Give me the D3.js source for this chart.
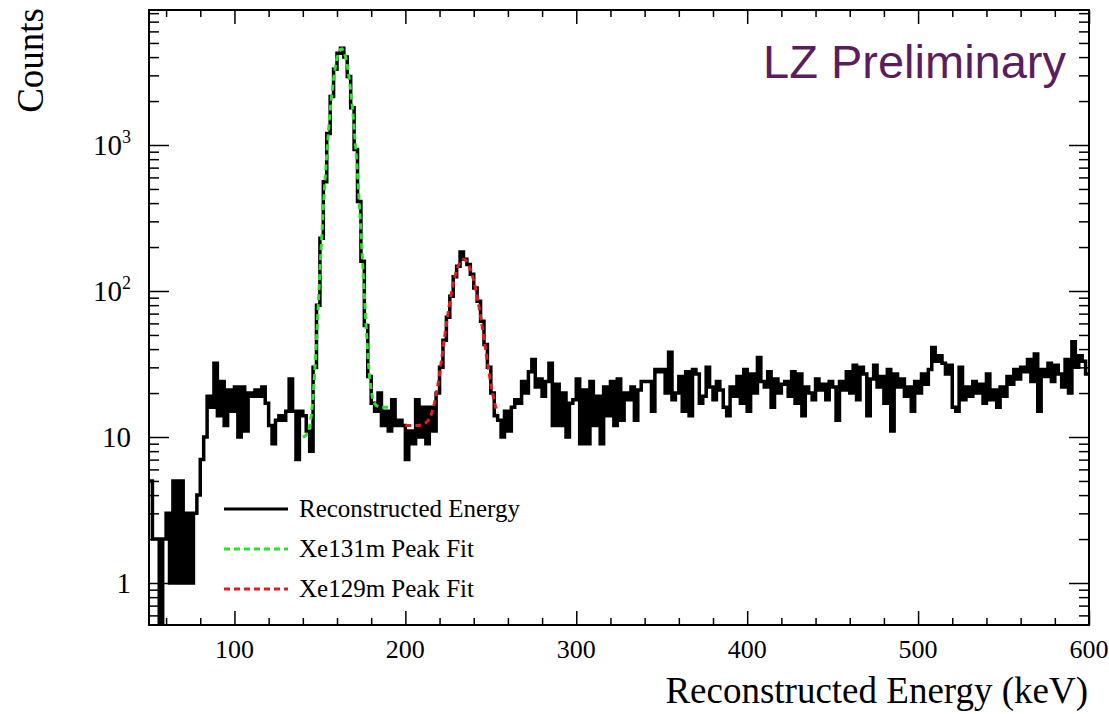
<!DOCTYPE html>
<html>
<head>
<meta charset="utf-8">
<script src="https://cdn.jsdelivr.net/npm/d3@7"></script>
<style>
  body { margin: 0; background: #fff; }
  svg { display: block; }
</style>
</head>
<body>
<script>
// reconstructed energy spectrum, 2 keV bins starting at 50 keV
const binLow = 50
const binWidth = 2
const counts = [
  5, 2, 2, 0, 2, 3, 1, 5, 1, 5,                          // 50-70
  1, 3, 1, 3, 4, 7, 10, 19, 16, 32,                      // 70-90
  14, 24, 12, 21, 15, 22, 10, 22, 11, 20,                // 90-110
  19, 21, 19, 22, 17, 12, 9, 13, 14, 13,                 // 110-130
  15, 25, 15, 7, 15, 14, 11, 8, 30, 80,                  // 130-150
  230, 560, 1200, 2150, 3300, 4250, 4600, 4000, 2950, 1800, // 150-170
  930, 410, 160, 58, 26, 17, 15, 20, 12, 15,             // 170-190
  11, 18, 12, 13, 12, 7, 11, 9, 18, 10,                  // 190-210
  16, 9, 16, 11, 20, 30, 46, 66, 92, 125,                // 210-230
  148, 185, 165, 152, 130, 105, 85, 62, 43, 30,          // 230-250
  20, 14, 13, 10, 15, 11, 16, 18, 17, 24,                // 250-270
  20, 28, 34, 22, 25, 19, 24, 32, 12, 23,                // 270-290
  12, 20, 10, 17, 18, 25, 9, 21, 9, 24,                  // 290-310
  12, 19, 9, 22, 14, 24, 12, 25, 13, 20,                 // 310-330
  18, 22, 13, 21, 24, 24, 24, 15, 29, 28,                // 330-350
  29, 20, 38, 18, 20, 26, 15, 28, 14, 29,                // 350-370
  27, 17, 19, 30, 22, 18, 24, 21, 16, 14,                // 370-390
  22, 19, 26, 17, 29, 15, 27, 20, 35, 24,                // 390-410
  22, 28, 16, 25, 20, 23, 24, 19, 28, 17,                // 410-430
  27, 14, 22, 20, 18, 25, 21, 23, 18, 24,                // 430-450
  22, 13, 24, 21, 28, 20, 31, 18, 30, 27,                // 450-470
  14, 25, 31, 22, 26, 17, 29, 11, 27, 22,                // 470-490
  25, 19, 22, 15, 24, 20, 27, 23, 29, 41,                // 490-510
  33, 36, 32, 27, 31, 16, 15, 30, 18, 22,                // 510-530
  19, 24, 20, 23, 17, 27, 18, 21, 16, 22,                // 530-550
  19, 26, 23, 29, 25, 30, 28, 34, 24, 37,                // 550-570
  15, 29, 26, 32, 24, 31, 27, 22, 34, 20,                // 570-590
  45, 30, 36, 33, 27                                     // 590-600
]

// peak fits, sampled every 1 keV
const xe131Start = 140
const xe131Fit = [
  10, 10.1, 10.3, 10.8, 11.8, 14.1, 18.9, 28.4, 46, 79,
  135, 226, 368, 574, 863, 1241, 1708, 2248, 2829, 3406,
  3916, 4306, 4526, 4547, 4366, 4009, 3517, 2950, 2366, 1816,
  1333, 937, 632, 409, 256, 156, 94, 58, 37, 26,
  21, 18, 17, 16.4, 16.2, 16, 16, 16, 16, 16,
  16
]
const xe129Start = 200
const xe129Fit = [
  12, 12, 12, 12, 12, 12, 12, 12, 12, 12.1,
  12.2, 12.3, 12.5, 12.8, 13.3, 14.1, 15.3, 17, 19.4, 22.7,
  27, 32.7, 39.8, 48.6, 58.9, 70.7, 83.8, 97.7, 111.9, 125.8,
  138.6, 149.5, 158, 163.2, 165, 163.5, 158.9, 151.6, 142, 130.5,
  118, 104.8, 91.6, 78.9, 67, 56.5, 47.2, 39.3, 32.7, 27.4,
  23.2, 20, 17.6, 15.8, 14.6
]

const xMajor = [100, 200, 300, 400, 500, 600]
const xMinor = [60, 80, 120, 140, 160, 180, 220, 240, 260, 280, 320, 340, 360, 380,
  420, 440, 460, 480, 520, 540, 560, 580]
const yMajor = [1, 10, 100, 1000]
const yLabels = [["1", ""], ["10", ""], ["10", "2"], ["10", "3"]]
const yMinor = [0.6, 0.7, 0.8, 0.9, 2, 3, 4, 5, 6, 7, 8, 9, 20, 30, 40, 50, 60, 70, 80, 90,
  200, 300, 400, 500, 600, 700, 800, 900, 2000, 3000, 4000, 5000, 6000, 7000, 8000]

const legendItems = ["Reconstructed Energy", "Xe131m Peak Fit", "Xe129m Peak Fit"]

const w = 1109
const h = 714
const plotLeft = 149
const plotRight = 1089
const plotTop = 10
const plotBottom = 625
const serif = "'Liberation Serif', 'Times New Roman', serif"

const svg = d3.select("body")
  .append("svg")
  .attr("width", w)
  .attr("height", h)

const xScale = d3.scaleLinear()
  .domain([50, 600])
  .range([plotLeft, plotRight])
const yScale = d3.scaleLog()
  .domain([0.5156, 8408])
  .range([plotBottom, plotTop])
const yFloor = yScale.domain()[0]

svg.append("clipPath")
  .attr("id", "frame-clip")
  .append("rect")
  .attr("x", plotLeft)
  .attr("y", plotTop)
  .attr("width", plotRight - plotLeft)
  .attr("height", plotBottom - plotTop)

const plotArea = svg.append("g")
  .attr("clip-path", "url(#frame-clip)")

// histogram as a step outline, empty bins drop to the frame bottom
const histPoints = counts.map((c, i) => [binLow + i * binWidth, c])
histPoints.push([binLow + counts.length * binWidth, counts[counts.length - 1]])

const histLine = d3.line()
  .x(d => xScale(d[0]))
  .y(d => yScale(Math.max(d[1], yFloor)))
  .curve(d3.curveStepAfter)

plotArea.append("path")
  .datum(histPoints)
  .attr("d", histLine)
  .attr("fill", "none")
  .attr("stroke", "#000")
  .attr("stroke-width", 3.5)

const fitLine = d3.line()
  .x(d => xScale(d[0]))
  .y(d => yScale(d[1]))

const fits = [
  {start: xe131Start, values: xe131Fit, color: "#2ee02e"},
  {start: xe129Start, values: xe129Fit, color: "#e01e1e"}
]

fits.forEach(f => {
  plotArea.append("path")
    .datum(f.values.map((v, i) => [f.start + i, v]))
    .attr("d", fitLine)
    .attr("fill", "none")
    .attr("stroke", f.color)
    .attr("stroke-width", 3)
    .attr("stroke-dasharray", "6,4")
})

// ticks on all four sides, pointing inwards
const tickAxes = [
  {axis: d3.axisBottom(xScale).tickValues(xMajor).tickSize(-14), at: [0, plotBottom]},
  {axis: d3.axisBottom(xScale).tickValues(xMinor).tickSize(-7), at: [0, plotBottom]},
  {axis: d3.axisTop(xScale).tickValues(xMajor).tickSize(-14), at: [0, plotTop]},
  {axis: d3.axisTop(xScale).tickValues(xMinor).tickSize(-7), at: [0, plotTop]},
  {axis: d3.axisLeft(yScale).tickValues(yMajor).tickSize(-20), at: [plotLeft, 0]},
  {axis: d3.axisLeft(yScale).tickValues(yMinor).tickSize(-10), at: [plotLeft, 0]},
  {axis: d3.axisRight(yScale).tickValues(yMajor).tickSize(-20), at: [plotRight, 0]},
  {axis: d3.axisRight(yScale).tickValues(yMinor).tickSize(-10), at: [plotRight, 0]}
]

tickAxes.forEach(t => {
  const g = svg.append("g")
    .attr("transform", "translate(" + t.at[0] + "," + t.at[1] + ")")
    .call(t.axis.tickSizeOuter(0).tickFormat(""))
  g.select(".domain").remove()
  g.selectAll("line")
    .attr("stroke", "#000")
    .attr("stroke-width", 1.5)
})

svg.append("rect")
  .attr("x", plotLeft)
  .attr("y", plotTop)
  .attr("width", plotRight - plotLeft)
  .attr("height", plotBottom - plotTop)
  .attr("fill", "none")
  .attr("stroke", "#000")
  .attr("stroke-width", 2)

// tick labels
svg.append("g")
  .selectAll("text")
  .data(xMajor)
  .enter()
  .append("text")
  .attr("x", d => xScale(d))
  .attr("y", 658)
  .attr("text-anchor", "middle")
  .attr("font-family", serif)
  .attr("font-size", 26)
  .text(d => d)

const yLab = svg.append("g")
  .selectAll("text")
  .data(yMajor)
  .enter()
  .append("text")
  .attr("x", 131)
  .attr("y", d => yScale(d) + 10)
  .attr("text-anchor", "end")
  .attr("font-family", serif)
  .attr("font-size", 29)

yLab.append("tspan")
  .text((d, i) => yLabels[i][0])
yLab.append("tspan")
  .attr("dy", -12)
  .attr("font-size", 18)
  .text((d, i) => yLabels[i][1])

// axis titles
svg.append("text")
  .attr("x", 1088)
  .attr("y", 703)
  .attr("text-anchor", "end")
  .attr("font-family", serif)
  .attr("font-size", 37)
  .text("Reconstructed Energy (keV)")

svg.append("text")
  .attr("transform", "translate(43,8) rotate(-90)")
  .attr("text-anchor", "end")
  .attr("font-family", serif)
  .attr("font-size", 37)
  .text("Counts")

svg.append("text")
  .attr("x", 1066)
  .attr("y", 78)
  .attr("text-anchor", "end")
  .attr("font-family", "'Liberation Sans', Arial, sans-serif")
  .attr("font-size", 47)
  .attr("fill", "#5a1e5e")
  .text("LZ Preliminary")

// legend
const legendStyles = [
  {color: "#000", dash: null},
  {color: "#2ee02e", dash: "6,4"},
  {color: "#e01e1e", dash: "6,4"}
]
const legend = svg.append("g")
  .selectAll("g")
  .data(legendItems)
  .enter()
  .append("g")
  .attr("transform", (d, i) => "translate(0," + (509 + i * 40) + ")")

legend.append("line")
  .attr("x1", 224)
  .attr("x2", 288)
  .attr("stroke", (d, i) => legendStyles[i].color)
  .attr("stroke-width", 3)
  .attr("stroke-dasharray", (d, i) => legendStyles[i].dash)

legend.append("text")
  .attr("x", 299)
  .attr("y", 8)
  .attr("font-family", serif)
  .attr("font-size", 25)
  .text(d => d)
</script>
</body>
</html>
